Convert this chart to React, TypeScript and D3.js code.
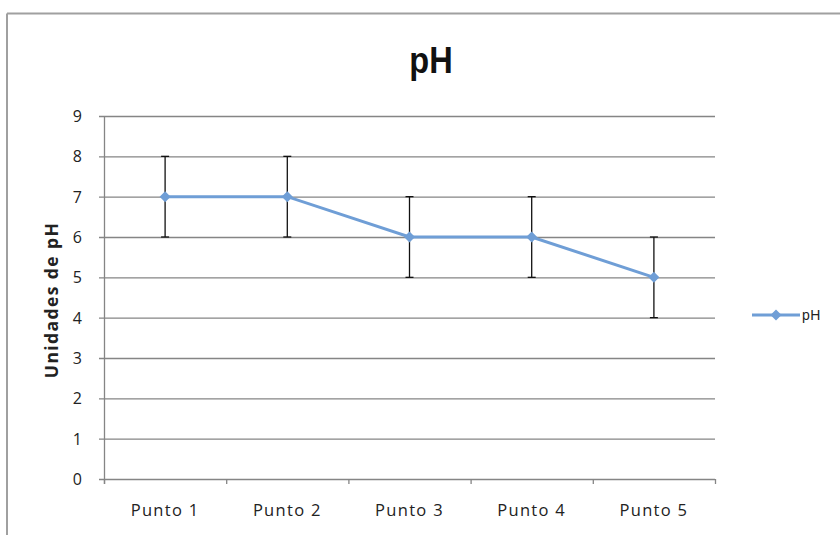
import React from "react";
import * as d3 from "d3";

const categories = ["Punto 1", "Punto 2", "Punto 3", "Punto 4", "Punto 5"];
const phValues = [7, 7, 6, 6, 5];
const errorValues = [1, 1, 1, 1, 1];
const yTicks = [0, 1, 2, 3, 4, 5, 6, 7, 8, 9];

const W = 840;
const H = 535;
const margin = { left: 104, right: 125, top: 116, bottom: 56 };

export default function App() {
  const x = d3
    .scaleBand<string>()
    .domain(categories)
    .range([margin.left, W - margin.right])
    .paddingInner(0)
    .paddingOuter(0);
  const y = d3.scaleLinear().domain([0, 9]).range([H - margin.bottom, margin.top]);

  const line = d3
    .line<number>()
    .x((_, i) => (x(categories[i]) as number) + x.bandwidth() / 2)
    .y((d) => y(d));

  const lineColor = "#6f9ed6";
  const gridColor = "#858585";
  const font = "'Open Sans', 'Liberation Sans', sans-serif";
  const x0 = margin.left;
  const x1 = W - margin.right;
  const yBase = y(0);

  const diamond = (cx: number, cy: number, r: number) =>
    `M${cx},${cy - r}L${cx + r},${cy}L${cx},${cy + r}L${cx - r},${cy}Z`;

  const boundaries = [...categories.map((c) => x(c) as number), x1];

  return (
    <svg
      width={W}
      height={H}
      style={{ position: "absolute", left: 0, top: 0, background: "#fff" }}
    >
      <rect x={0} y={0} width={W} height={H} fill="#fff" />
      {/* outer border */}
      <line x1={7} y1={13.5} x2={W} y2={13.5} stroke="#a0a0a0" strokeWidth={2} />
      <line x1={7} y1={13.5} x2={7} y2={H} stroke="#a0a0a0" strokeWidth={2} />

      {/* title */}
      <text
        x={431}
        y={73}
        textAnchor="middle"
        fontFamily="'Liberation Sans', Arial, sans-serif"
        fontWeight="bold"
        fontSize={37}
        fill="#111"
        transform="translate(431,73) scale(0.88,1) translate(-431,-73)"
      >
        pH
      </text>

      {/* gridlines and y ticks */}
      {yTicks.map((t) => (
        <g key={t}>
          <line
            x1={x0 - 5}
            x2={x1}
            y1={y(t) + 0.5}
            y2={y(t) + 0.5}
            stroke={gridColor}
            strokeWidth={1.3}
          />
          <text
            x={82}
            y={y(t) + 6}
            textAnchor="end"
            fontFamily={font}
            fontSize={16}
            fill="#222"
          >
            {t}
          </text>
        </g>
      ))}

      {/* y axis line */}
      <line x1={x0 + 0.5} x2={x0 + 0.5} y1={y(9)} y2={yBase + 5} stroke={gridColor} strokeWidth={1.3} />
      {/* x tick marks */}
      {boundaries.map((b, i) => (
        <line key={i} x1={b + 0.5} x2={b + 0.5} y1={yBase} y2={yBase + 5} stroke={gridColor} strokeWidth={1.3} />
      ))}

      {/* x labels */}
      {categories.map((c) => (
        <text
          key={c}
          x={(x(c) as number) + x.bandwidth() / 2}
          y={516}
          textAnchor="middle"
          fontFamily={font}
          fontSize={16.5}
          letterSpacing={1.3}
          fill="#222"
        >
          {c}
        </text>
      ))}

      {/* y axis title */}
      <text
        transform={`translate(58,300) rotate(-90)`}
        textAnchor="middle"
        fontFamily={font}
        fontWeight="bold"
        fontSize={17.5}
        letterSpacing={1.4}
        fill="#222"
      >
        Unidades de pH
      </text>

      {/* error bars */}
      {phValues.map((v, i) => {
        const cx = (x(categories[i]) as number) + x.bandwidth() / 2;
        const e = errorValues[i];
        return (
          <g key={i} stroke="#111" strokeWidth={1.3}>
            <line x1={cx} x2={cx} y1={y(v + e)} y2={y(v - e)} />
            <line x1={cx - 4} x2={cx + 4} y1={y(v + e)} y2={y(v + e)} />
            <line x1={cx - 4} x2={cx + 4} y1={y(v - e)} y2={y(v - e)} />
          </g>
        );
      })}

      {/* line */}
      <path d={line(phValues) || ""} fill="none" stroke={lineColor} strokeWidth={3} />
      {phValues.map((v, i) => {
        const cx = (x(categories[i]) as number) + x.bandwidth() / 2;
        return <path key={i} d={diamond(cx, y(v), 5.5)} fill={lineColor} />;
      })}

      {/* legend */}
      <line x1={752} x2={800} y1={315} y2={315} stroke={lineColor} strokeWidth={3} />
      <path d={diamond(776, 315, 5.5)} fill={lineColor} />
      <text x={802} y={320} fontFamily="'Liberation Sans', Arial, sans-serif" fontSize={14} letterSpacing={0.5} fill="#222">
        pH
      </text>
    </svg>
  );
}
